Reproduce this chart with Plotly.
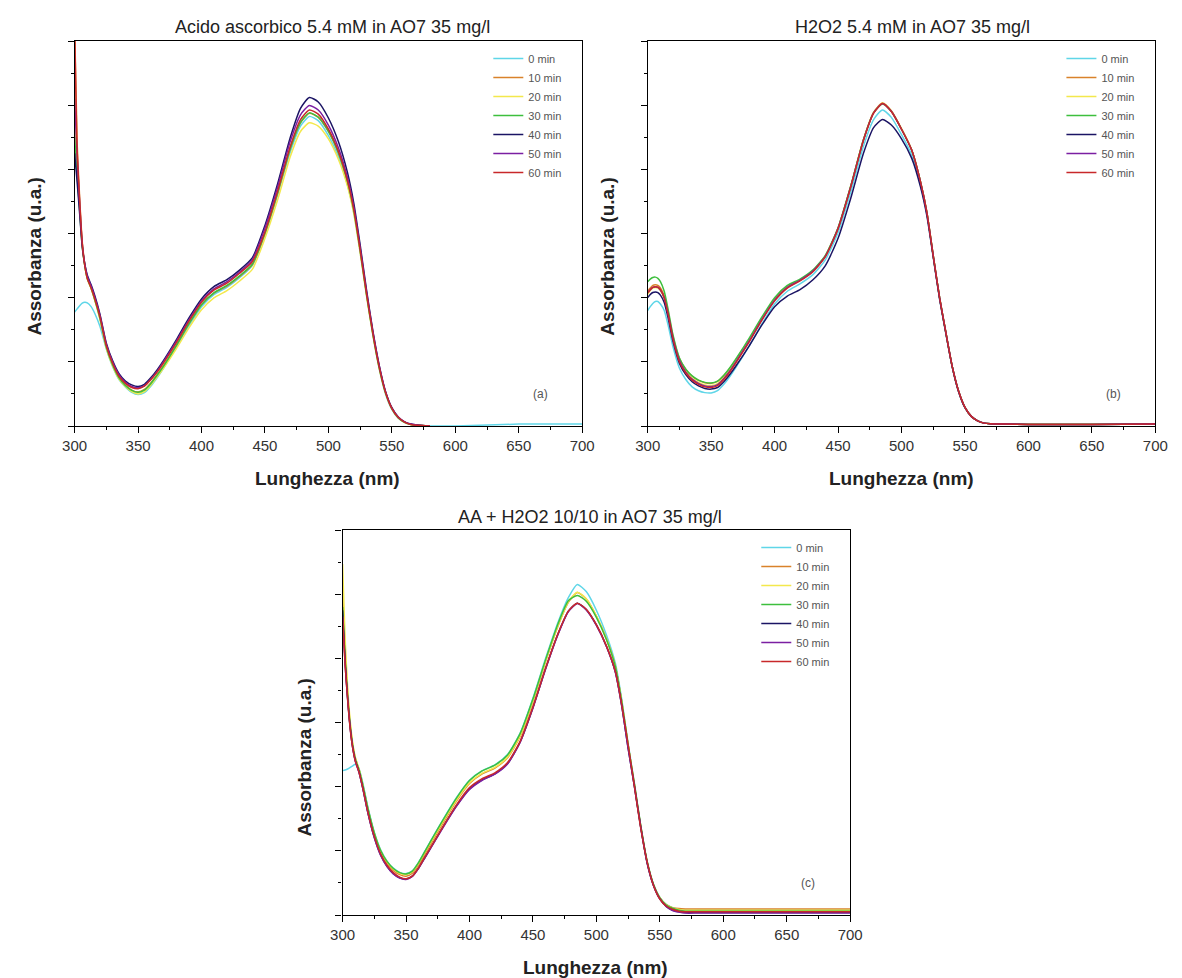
import plotly.graph_objects as go

# ---------------- data ----------------
WL = [300, 302, 304, 306, 308, 310, 313, 316, 320, 325, 330, 335, 340, 345, 350, 355, 360, 365, 370, 380,
      390, 400, 410, 420, 430, 440, 450, 460, 470, 478, 485, 492, 500, 508, 515, 520, 525, 530, 535, 540,
      545, 550, 555, 560, 565, 570, 580, 600, 650, 700]
WL_SHORT = [300, 302, 304, 306, 308, 310, 313, 316, 320, 325, 330, 335, 340, 345, 350, 355, 360, 365, 370, 380,
            390, 400, 410, 420, 430, 440, 450, 460, 470, 478, 485, 492, 500, 508, 515, 520, 525, 530, 535, 540,
            545, 550, 555, 560, 565, 570, 580]

SERIES_NAMES = ["0 min", "10 min", "20 min", "30 min", "40 min", "50 min", "60 min"]
SERIES_COLORS = ["#5fd6e8", "#d9822b", "#f3e84c", "#3dbf3d", "#1b1464", "#7b1fa2", "#c8282a"]

# Panel (a) Acido ascorbico
A_0 = [0.355, 0.365, 0.375, 0.383, 0.386, 0.384, 0.372, 0.35, 0.31, 0.24, 0.185, 0.145, 0.122, 0.105, 0.098, 0.104,
       0.124, 0.15, 0.18, 0.245, 0.312, 0.372, 0.41, 0.432, 0.462, 0.5, 0.595, 0.72, 0.855, 0.935, 0.965, 0.952,
       0.905, 0.838, 0.752, 0.665, 0.542, 0.408, 0.285, 0.18, 0.1, 0.052, 0.025, 0.011, 0.005, 0.002, 0.0,
       0.0, 0.006, 0.006]
A_10 = [1.25, 0.88, 0.71, 0.575, 0.505, 0.462, 0.43, 0.392, 0.335, 0.245, 0.19, 0.15, 0.127, 0.112, 0.106, 0.114,
        0.134, 0.16, 0.188, 0.25, 0.318, 0.378, 0.415, 0.436, 0.466, 0.502, 0.6, 0.725, 0.865, 0.945, 0.975, 0.962,
        0.918, 0.85, 0.762, 0.672, 0.548, 0.412, 0.288, 0.183, 0.104, 0.054, 0.026, 0.012, 0.005, 0.002, 0.0]
A_20 = [0.95, 0.8, 0.68, 0.565, 0.5, 0.458, 0.428, 0.39, 0.332, 0.242, 0.186, 0.146, 0.123, 0.107, 0.1, 0.107,
        0.127, 0.153, 0.18, 0.24, 0.305, 0.362, 0.4, 0.422, 0.452, 0.488, 0.585, 0.705, 0.84, 0.918, 0.945, 0.935,
        0.895, 0.83, 0.748, 0.662, 0.54, 0.406, 0.284, 0.18, 0.102, 0.053, 0.025, 0.011, 0.005, 0.002, 0.0]
A_30 = [0.9, 0.78, 0.67, 0.56, 0.5, 0.46, 0.43, 0.393, 0.336, 0.246, 0.19, 0.15, 0.126, 0.111, 0.105, 0.112,
        0.132, 0.158, 0.186, 0.25, 0.318, 0.378, 0.416, 0.438, 0.468, 0.504, 0.602, 0.728, 0.866, 0.946, 0.976, 0.963,
        0.918, 0.85, 0.762, 0.672, 0.548, 0.412, 0.288, 0.183, 0.104, 0.054, 0.026, 0.012, 0.005, 0.002, 0.0]
A_40 = [0.85, 0.76, 0.66, 0.56, 0.505, 0.47, 0.44, 0.405, 0.348, 0.258, 0.203, 0.163, 0.14, 0.128, 0.123, 0.13,
        0.15, 0.175, 0.204, 0.268, 0.336, 0.396, 0.435, 0.456, 0.486, 0.524, 0.625, 0.755, 0.9, 0.99, 1.024, 1.01,
        0.96, 0.885, 0.79, 0.695, 0.565, 0.425, 0.297, 0.19, 0.108, 0.057, 0.028, 0.013, 0.006, 0.003, 0.0]
A_50 = [1.02, 0.84, 0.69, 0.568, 0.505, 0.466, 0.436, 0.4, 0.344, 0.254, 0.199, 0.159, 0.136, 0.123, 0.119, 0.126,
        0.146, 0.17, 0.2, 0.263, 0.33, 0.39, 0.428, 0.45, 0.48, 0.518, 0.617, 0.745, 0.888, 0.97, 0.999, 0.985,
        0.938, 0.866, 0.775, 0.683, 0.556, 0.419, 0.294, 0.188, 0.107, 0.056, 0.028, 0.013, 0.006, 0.003, 0.0]
A_60 = [1.25, 0.86, 0.7, 0.57, 0.5, 0.46, 0.43, 0.395, 0.34, 0.25, 0.195, 0.155, 0.133, 0.12, 0.116, 0.124,
        0.144, 0.168, 0.196, 0.258, 0.326, 0.386, 0.424, 0.445, 0.476, 0.512, 0.605, 0.732, 0.872, 0.955, 0.985, 0.972,
        0.925, 0.855, 0.765, 0.675, 0.55, 0.414, 0.29, 0.185, 0.105, 0.055, 0.027, 0.012, 0.005, 0.002, 0.0]

# Panel (b) H2O2
B_0 = [0.36, 0.372, 0.382, 0.388, 0.388, 0.38, 0.36, 0.315, 0.245, 0.18, 0.145, 0.122, 0.11, 0.104, 0.103, 0.11,
       0.13, 0.156, 0.186, 0.25, 0.318, 0.38, 0.42, 0.443, 0.471, 0.518, 0.603, 0.73, 0.872, 0.955, 0.985, 0.962,
       0.908, 0.845, 0.75, 0.66, 0.528, 0.396, 0.287, 0.183, 0.107, 0.057, 0.03, 0.016, 0.009, 0.007, 0.006,
       0.005, 0.005, 0.006]
B_10 = [0.42, 0.43, 0.438, 0.44, 0.438, 0.43, 0.405, 0.356, 0.278, 0.21, 0.176, 0.155, 0.142, 0.135, 0.133, 0.139,
        0.157, 0.181, 0.21, 0.27, 0.336, 0.395, 0.434, 0.455, 0.483, 0.53, 0.617, 0.747, 0.892, 0.977, 1.007, 0.982,
        0.926, 0.861, 0.761, 0.666, 0.531, 0.4, 0.29, 0.185, 0.108, 0.058, 0.03, 0.016, 0.009, 0.007, 0.006,
        0.005, 0.005, 0.006]
B_20 = [0.41, 0.422, 0.43, 0.432, 0.43, 0.422, 0.398, 0.35, 0.272, 0.205, 0.17, 0.149, 0.136, 0.128, 0.126, 0.132,
        0.151, 0.176, 0.205, 0.268, 0.334, 0.393, 0.433, 0.455, 0.483, 0.53, 0.617, 0.748, 0.893, 0.978, 1.007, 0.983,
        0.927, 0.861, 0.761, 0.666, 0.531, 0.4, 0.29, 0.185, 0.108, 0.058, 0.03, 0.016, 0.009, 0.007, 0.006,
        0.006, 0.006, 0.006]
B_30 = [0.45, 0.458, 0.463, 0.464, 0.46, 0.45, 0.42, 0.365, 0.282, 0.212, 0.177, 0.156, 0.143, 0.136, 0.134, 0.14,
        0.158, 0.183, 0.212, 0.274, 0.34, 0.4, 0.438, 0.458, 0.486, 0.532, 0.618, 0.748, 0.892, 0.976, 1.004, 0.98,
        0.925, 0.86, 0.76, 0.665, 0.53, 0.4, 0.29, 0.185, 0.108, 0.058, 0.03, 0.016, 0.009, 0.007, 0.006,
        0.005, 0.005, 0.006]
B_40 = [0.4, 0.41, 0.416, 0.418, 0.416, 0.408, 0.385, 0.338, 0.262, 0.195, 0.16, 0.138, 0.125, 0.117, 0.115, 0.12,
        0.138, 0.162, 0.19, 0.25, 0.315, 0.372, 0.405, 0.425, 0.455, 0.5, 0.585, 0.71, 0.85, 0.93, 0.955, 0.938,
        0.895, 0.835, 0.745, 0.655, 0.526, 0.396, 0.288, 0.184, 0.107, 0.057, 0.03, 0.016, 0.009, 0.007, 0.006,
        0.005, 0.005, 0.006]
B_50 = [0.415, 0.425, 0.432, 0.434, 0.432, 0.424, 0.4, 0.35, 0.272, 0.204, 0.168, 0.146, 0.133, 0.125, 0.123, 0.129,
        0.148, 0.173, 0.203, 0.265, 0.332, 0.392, 0.432, 0.454, 0.482, 0.529, 0.616, 0.746, 0.891, 0.976, 1.005, 0.981,
        0.925, 0.86, 0.76, 0.665, 0.53, 0.4, 0.29, 0.185, 0.108, 0.058, 0.03, 0.016, 0.009, 0.007, 0.006,
        0.005, 0.005, 0.006]
B_60 = [0.415, 0.425, 0.432, 0.434, 0.433, 0.425, 0.4, 0.35, 0.27, 0.2, 0.165, 0.143, 0.13, 0.122, 0.12, 0.126,
        0.145, 0.17, 0.2, 0.262, 0.33, 0.39, 0.43, 0.452, 0.48, 0.528, 0.615, 0.745, 0.89, 0.975, 1.005, 0.98,
        0.925, 0.86, 0.76, 0.665, 0.53, 0.4, 0.29, 0.185, 0.108, 0.058, 0.03, 0.016, 0.009, 0.007, 0.006,
        0.005, 0.005, 0.006]

# Panel (c) AA + H2O2
C_0 = [0.45, 0.452, 0.455, 0.46, 0.465, 0.47, 0.455, 0.41, 0.335, 0.258, 0.203, 0.168, 0.146, 0.133, 0.129, 0.138,
       0.165, 0.2, 0.235, 0.303, 0.367, 0.42, 0.45, 0.468, 0.5, 0.568, 0.676, 0.8, 0.915, 0.99, 1.03, 1.008,
       0.95, 0.872, 0.784, 0.672, 0.535, 0.41, 0.278, 0.168, 0.096, 0.055, 0.033, 0.023, 0.018, 0.016, 0.016,
       0.016, 0.016, 0.016]
C_10 = [1.006, 0.82, 0.69, 0.595, 0.53, 0.49, 0.452, 0.402, 0.328, 0.252, 0.197, 0.162, 0.139, 0.126, 0.121, 0.13,
        0.157, 0.191, 0.225, 0.293, 0.357, 0.41, 0.44, 0.458, 0.49, 0.557, 0.665, 0.79, 0.903, 0.975, 1.005, 0.985,
        0.932, 0.86, 0.775, 0.665, 0.53, 0.406, 0.276, 0.166, 0.095, 0.054, 0.032, 0.023, 0.02, 0.019, 0.019,
        0.019, 0.019, 0.019]
C_20 = [1.094, 0.86, 0.71, 0.605, 0.535, 0.492, 0.455, 0.405, 0.33, 0.255, 0.2, 0.166, 0.143, 0.13, 0.126, 0.135,
        0.162, 0.196, 0.23, 0.297, 0.36, 0.412, 0.442, 0.46, 0.492, 0.56, 0.668, 0.792, 0.905, 0.977, 1.006, 0.986,
        0.932, 0.86, 0.775, 0.665, 0.53, 0.406, 0.276, 0.166, 0.095, 0.054, 0.032, 0.022, 0.017, 0.015, 0.015,
        0.015, 0.015, 0.015]
C_30 = [0.96, 0.8, 0.68, 0.59, 0.527, 0.487, 0.452, 0.405, 0.332, 0.256, 0.201, 0.167, 0.145, 0.132, 0.128, 0.137,
        0.164, 0.199, 0.234, 0.302, 0.366, 0.419, 0.449, 0.467, 0.499, 0.566, 0.673, 0.796, 0.91, 0.98, 0.996, 0.978,
        0.928, 0.858, 0.774, 0.664, 0.53, 0.406, 0.276, 0.166, 0.095, 0.053, 0.031, 0.021, 0.015, 0.012, 0.012,
        0.012, 0.012, 0.012]
C_40 = [0.95, 0.79, 0.675, 0.585, 0.522, 0.482, 0.445, 0.394, 0.318, 0.242, 0.187, 0.152, 0.129, 0.116, 0.112, 0.121,
        0.147, 0.18, 0.213, 0.28, 0.342, 0.393, 0.421, 0.44, 0.472, 0.54, 0.646, 0.768, 0.878, 0.947, 0.972, 0.952,
        0.904, 0.837, 0.757, 0.652, 0.52, 0.4, 0.272, 0.162, 0.092, 0.05, 0.027, 0.015, 0.01, 0.008, 0.008,
        0.008, 0.008, 0.008]
C_50 = [0.93, 0.78, 0.67, 0.582, 0.52, 0.48, 0.443, 0.393, 0.317, 0.241, 0.186, 0.151, 0.128, 0.115, 0.111, 0.12,
        0.146, 0.179, 0.212, 0.278, 0.34, 0.391, 0.42, 0.439, 0.471, 0.539, 0.645, 0.767, 0.877, 0.946, 0.971, 0.951,
        0.903, 0.836, 0.756, 0.651, 0.52, 0.4, 0.272, 0.162, 0.092, 0.05, 0.027, 0.014, 0.009, 0.006, 0.006,
        0.006, 0.006, 0.006]
C_60 = [0.93, 0.78, 0.67, 0.58, 0.52, 0.48, 0.445, 0.395, 0.32, 0.245, 0.19, 0.155, 0.132, 0.118, 0.113, 0.122,
        0.148, 0.182, 0.215, 0.282, 0.345, 0.397, 0.425, 0.443, 0.475, 0.542, 0.648, 0.77, 0.88, 0.948, 0.972, 0.953,
        0.905, 0.838, 0.758, 0.655, 0.53, 0.4, 0.27, 0.165, 0.092, 0.05, 0.028, 0.018, 0.012, 0.01, 0.01,
        0.01, 0.01, 0.01]

PANEL_TITLES = ["Acido ascorbico 5.4 mM in AO7 35 mg/l", "H2O2 5.4 mM in AO7 35 mg/l", "AA + H2O2 10/10 in AO7 35 mg/l"]
PANEL_TAGS = ["(a)", "(b)", "(c)"]
X_TITLE = "Lunghezza (nm)"
Y_TITLE = "Assorbanza (u.a.)"

# ---------------- figure ----------------
W, H = 1182, 978
FONT = "Liberation Sans, Arial, sans-serif"


def px(x):
    return x / W


def py(y):
    return 1 - y / H


panels = [
    dict(xs=[WL, WL_SHORT, WL_SHORT, WL_SHORT, WL_SHORT, WL_SHORT, WL_SHORT],
         ys=[A_0, A_10, A_20, A_30, A_40, A_50, A_60],
         xdom=(63, 582), ydom=(41, 426), legend="legend"),
    dict(xs=[WL] * 7, ys=[B_0, B_10, B_20, B_30, B_40, B_50, B_60],
         xdom=(649, 1168), ydom=(41, 426), legend="legend2"),
    dict(xs=[WL] * 7, ys=[C_0, C_10, C_20, C_30, C_40, C_50, C_60],
         xdom=(337, 856), ydom=(530, 915), legend="legend3"),
]

fig = go.Figure()
layout = dict(width=W, height=H, margin=dict(l=0, r=0, t=0, b=0),
              paper_bgcolor="white", plot_bgcolor="white",
              font=dict(family=FONT, color="#333"), annotations=[])

for i, p in enumerate(panels):
    sfx = "" if i == 0 else str(i + 1)
    for name, color, xv, yv in zip(SERIES_NAMES, SERIES_COLORS, p["xs"], p["ys"]):
        fig.add_trace(go.Scatter(x=xv, y=yv, mode="lines", name=name,
                                 line=dict(color=color, width=1.5, shape="spline", smoothing=0.6),
                                 xaxis="x" + sfx, yaxis="y" + sfx, legend=p["legend"]))
    x0, x1 = p["xdom"]
    y0, y1 = p["ydom"]
    layout["xaxis" + sfx] = dict(domain=[px(x0), px(x1)], range=[300, 700], anchor="y" + sfx,
                                 showgrid=False, zeroline=False, showline=True, linecolor="black",
                                 linewidth=1.2, mirror=True, ticks="outside", ticklen=6, tickwidth=1.2,
                                 tickcolor="black", dtick=50, tick0=300,
                                 tickfont=dict(size=15, color="#333"),
                                 minor=dict(dtick=25, ticks="outside", ticklen=3, tickcolor="black", tickwidth=1))
    layout["yaxis" + sfx] = dict(domain=[py(y1), py(y0)], range=[0, 1.2], anchor="x" + sfx,
                                 showgrid=False, zeroline=False, showline=True, linecolor="black",
                                 linewidth=1.2, mirror=True, ticks="outside", ticklen=6, tickwidth=1.2,
                                 tickcolor="black", dtick=0.2, tick0=0, showticklabels=False,
                                 minor=dict(dtick=0.1, ticks="outside", ticklen=3, tickcolor="black", tickwidth=1))
    # legend
    layout[p["legend"]] = dict(x=px(x1 - 96), y=py(y0 + 3), xanchor="left", yanchor="top",
                               bgcolor="rgba(0,0,0,0)", borderwidth=0,
                               font=dict(size=11, color="#555", family=FONT),
                               itemwidth=30, tracegroupgap=0)
    # panel tag
    layout["annotations"].append(dict(x=667, y=0.1, xref="x" + sfx, yref="y" + sfx, text=PANEL_TAGS[i],
                                      showarrow=False, font=dict(size=12, color="#555")))

# titles and axis titles (pixel positions)
title_pos = [(327, 27), (920, 27), (590, 517)]
xt_pos = [(322, 478), (908, 478), (596, 967)]
yt_pos = [(21, 257), (607, 257), (298, 757)]
for i in range(3):
    layout["annotations"].append(dict(x=px(title_pos[i][0]), y=py(title_pos[i][1]), xref="paper", yref="paper",
                                      text=PANEL_TITLES[i], showarrow=False, xanchor="center", yanchor="middle",
                                      font=dict(size=18, color="#222")))
    layout["annotations"].append(dict(x=px(xt_pos[i][0]), y=py(xt_pos[i][1]), xref="paper", yref="paper",
                                      text="<b>" + X_TITLE + "</b>", showarrow=False, xanchor="center",
                                      yanchor="middle", font=dict(size=19, color="#222")))
    layout["annotations"].append(dict(x=px(yt_pos[i][0]), y=py(yt_pos[i][1]), xref="paper", yref="paper",
                                      text="<b>" + Y_TITLE + "</b>", showarrow=False, textangle=-90,
                                      xanchor="center", yanchor="middle", font=dict(size=19, color="#222")))

fig.update_layout(**layout)
fig.write_html("out.html")
